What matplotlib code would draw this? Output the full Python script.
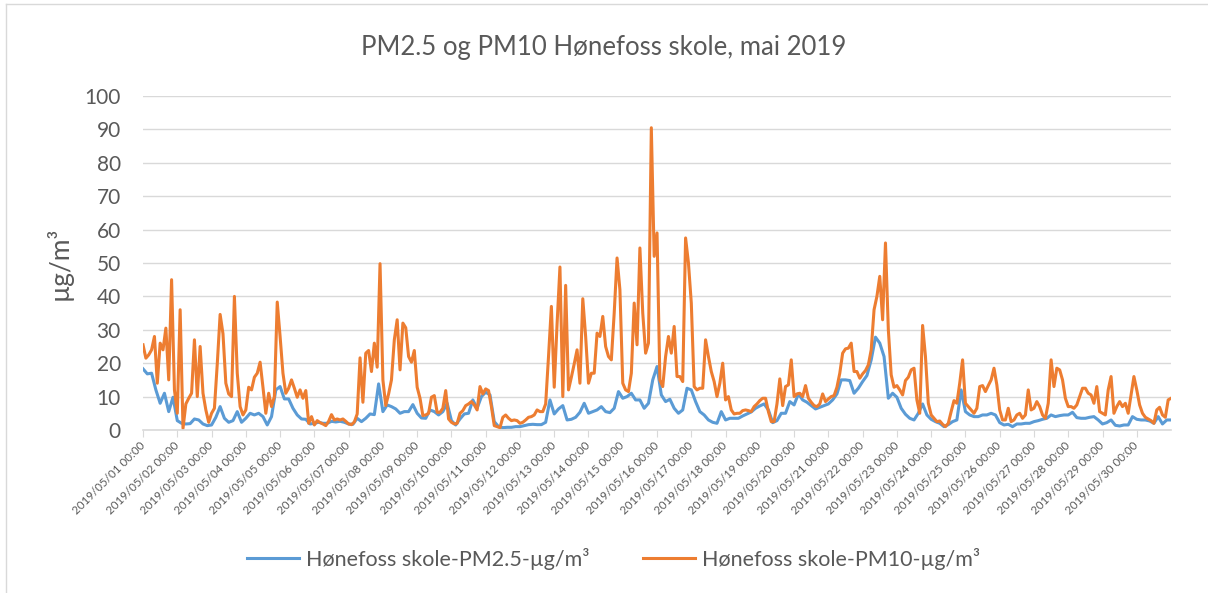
import pandas as pd
import matplotlib.pyplot as plt
from matplotlib.lines import Line2D

plt.rcParams['font.family'] = ['Lato', 'DejaVu Sans']

# PM10, verdier hver 2. time fra 2019-05-01 00:00 (en linje per dag)
pm10 = [
    25.5, 21.5, 22.5, 24, 28, 14, 26, 24, 30.5, 15, 45, 12,
    5, 36, 0.5, 7.8, 9.5, 11, 27, 10, 25, 11, 6, 2.3,
    5, 6.5, 19.8, 34.6, 28.8, 14, 10.8, 10, 40, 17, 7, 4.5,
    6, 12.8, 12, 15.8, 17, 20.3, 12.8, 5, 11, 7, 10, 38.3,
    28, 17, 11, 12.5, 15, 12.5, 9.8, 12, 9.5, 11.8, 2, 4,
    1.5, 2.8, 2.2, 1.8, 1.3, 2.6, 4.6, 3, 3.3, 3, 3.3, 2.6,
    1.8, 1.6, 2.4, 4.8, 21.6, 8.3, 23, 23.8, 17.5, 26, 18.8, 49.8,
    15, 7.3, 10.8, 15, 27, 33, 18, 32, 30.6, 22, 20.3, 23.8,
    12.8, 9.5, 4.3, 4.5, 5, 9.8, 10.3, 5.3, 5.3, 6.5, 11.8, 3.3,
    2.3, 1.8, 2, 5, 5.8, 7.3, 7.8, 8.5, 7.5, 6, 13, 10.8,
    12.3, 11.8, 7, 1.3, 1, 0.7, 3.8, 4.5, 3.5, 2.8, 3, 2.8,
    2, 2.3, 3, 3.8, 4, 4.5, 6, 5.5, 5.5, 7.8, 22, 37,
    12.8, 31.8, 48.8, 10, 43.3, 12, 15.8, 19.8, 24, 14, 39.3, 28,
    14, 17, 17, 29, 28, 34, 25, 22, 21, 35, 51.5, 42,
    14, 12, 11.5, 17, 38, 25.5, 54.5, 35, 23, 26, 90.5, 52,
    59, 15, 13, 22, 28, 23, 31, 16, 16, 14.5, 57.5, 50,
    38, 13, 12, 12.5, 12.5, 27, 22, 17.5, 14.5, 10, 14, 20,
    9, 10, 6, 4.8, 5, 5, 5.8, 6, 5.8, 5.5, 7, 7.8,
    8.8, 9.5, 9.5, 5.5, 2.5, 2.5, 7.8, 15.3, 7.3, 13, 13.5, 21,
    10, 10.8, 11, 10, 13.3, 9.5, 8.3, 7.3, 7, 7.8, 10.8, 8.5,
    9.3, 10, 10.3, 12.8, 17, 23, 24.3, 24.5, 26, 17.5, 17.5, 15.5,
    16.8, 17.8, 19.5, 24, 36, 40, 46, 33, 56, 30, 16.5, 12.8,
    13.3, 12, 10.5, 14.8, 15.8, 18, 18.5, 9, 5, 31.3, 22, 8,
    4.5, 3.5, 2.5, 2.7, 1.7, 1, 2, 5.5, 8.8, 8, 14, 21,
    8, 7, 6, 5, 6.5, 13, 13.3, 11.5, 13.3, 15, 18.5, 13.5,
    6, 3, 3, 6.5, 2.5, 3, 4.5, 5, 3.5, 4.5, 12, 6,
    6.5, 8.5, 7, 4.5, 3.5, 8, 21, 13, 18.5, 18, 15, 9.5,
    7, 7, 6.5, 7.5, 10, 12.5, 12.5, 11, 10.5, 8, 13, 5.5,
    5, 4.5, 12, 16, 5, 7, 8.5, 7, 8, 5, 10.5, 16,
    12, 7.5, 5, 3.8, 3.3, 2.8, 2, 6, 6.8, 4.5, 3.8, 9,
    9.5,
]

# PM2.5, verdier hver 3. time fra 2019-05-01 00:00
pm25 = [
    18.3, 16.8, 17, 12, 8, 11, 5.5, 9.8,
    2.8, 2, 1.8, 1.9, 3.3, 3, 1.8, 1.3,
    1.5, 3.8, 7, 3.5, 2.3, 2.8, 5.5, 2.3,
    3.5, 5, 4.5, 5, 4, 1.5, 4, 12,
    13, 9.3, 9.3, 6.5, 4.5, 3.3, 3.2, 1.8,
    2, 2.3, 2, 2, 2.6, 2.4, 2.6, 2.3,
    1.8, 1.7, 3.5, 2.5, 3.5, 4.8, 4.6, 13.8,
    5.5, 7.5, 7, 6.3, 5, 5.5, 5.5, 7.6,
    5, 3.6, 3.5, 6, 5.5, 4.5, 5.5, 8,
    2.8, 1.5, 3.3, 4.8, 5, 9, 6.5, 10,
    11.3, 10.5, 2.5, 1, 0.7, 0.8, 0.8, 1,
    1, 1.3, 1.6, 1.7, 1.6, 1.6, 2.3, 9,
    4.8, 6.3, 7.3, 3, 3.2, 3.8, 5.3, 8,
    5, 5.5, 6, 7, 5.5, 5.2, 6.5, 11.5,
    9.5, 10, 11, 9, 9, 6.5, 8, 15,
    19, 10.5, 8.5, 9.2, 6.5, 5, 6, 12.5,
    12, 8.5, 5.5, 4.5, 3, 2.3, 2, 5.5,
    3, 3.5, 3.5, 3.5, 4.2, 4.8, 5.4, 6.5,
    7.2, 7.8, 6, 2.2, 2.8, 5, 5, 8.5,
    7.5, 10.8, 9, 8.3, 7.3, 6.3, 6.8, 7.3,
    7.8, 9, 10.8, 15, 15, 14.8, 11, 12.5,
    14.5, 16.3, 21, 27.8, 26, 22, 9.5, 11,
    9.8, 6.5, 4.7, 3.5, 3, 5, 7.8, 4.5,
    3.2, 2.5, 2, 1, 1.6, 2.5, 3, 12,
    5.5, 4.5, 4, 4, 4.5, 4.5, 5, 4.5,
    2.2, 1.5, 1.7, 1, 1.8, 1.8, 2, 2,
    2.5, 2.8, 3.2, 3.5, 4.5, 4, 4.3, 4.5,
    4.5, 5.3, 3.7, 3.5, 3.5, 3.8, 4, 3,
    1.8, 2.2, 3, 1.4, 1.2, 1.5, 1.5, 4,
    3.2, 3, 3, 2.7, 2, 4, 1.8, 3,
    3,
]

t10 = pd.date_range('2019-05-01 00:00', periods=len(pm10), freq='2h')
t25 = pd.date_range('2019-05-01 00:00', periods=len(pm25), freq='3h')
days = pd.date_range('2019-05-01', '2019-05-30', freq='D')
day_labels = [d.strftime('%Y/%m/%d %H:%M') for d in days]

grey = '#595959'

fig = plt.figure(figsize=(12.08, 5.93), dpi=100)
ax = fig.add_axes([0.1184, 0.2749, 0.8510, 0.5632])

ax.plot(t25, pm25, color='#5B9BD5', lw=2.2, label='Hønefoss skole-PM2.5-µg/m³')
ax.plot(t10, pm10, color='#ED7D31', lw=2.2, label='Hønefoss skole-PM10-µg/m³')

ax.set_xlim(pd.Timestamp('2019-05-01'), pd.Timestamp('2019-05-31'))
ax.set_ylim(0, 100)
ax.set_yticks(range(0, 101, 10))
ax.yaxis.grid(True, color='#d9d9d9', lw=1)
ax.set_axisbelow(True)
for s in ['top', 'right', 'left']:
    ax.spines[s].set_visible(False)
ax.spines['bottom'].set_color('#d9d9d9')
ax.spines['bottom'].set_linewidth(1.2)
ax.tick_params(axis='y', length=0, labelsize=15, labelcolor=grey, pad=16)

ax.set_xticks(days)
ax.set_xticklabels(day_labels, rotation=45, ha='right', va='center',
                   rotation_mode='anchor', fontsize=8.3, color=grey)
ax.tick_params(axis='x', length=5, color='#d9d9d9', pad=5)

ax.set_ylabel('µg/m³', fontsize=19, color=grey)
ax.yaxis.set_label_coords(-0.068, 0.5)

fig.text(0.5, 1 - 47 / 593, 'PM2.5 og PM10 Hønefoss skole, mai 2019',
         ha='center', va='center', fontsize=18.5, color=grey)

fig.legend(loc='center', bbox_to_anchor=(0.508, 1 - 559 / 593), ncol=2,
           frameon=False, fontsize=15.5, handlelength=2.4, handletextpad=0.35,
           columnspacing=2.5, labelcolor=grey)

# ramme rundt diagrammet
fig.add_artist(Line2D([0.005, 0.005], [0, 0.993], transform=fig.transFigure,
                      color='#d9d9d9', lw=1))
fig.add_artist(Line2D([0.005, 1], [0.993, 0.993], transform=fig.transFigure,
                      color='#d9d9d9', lw=1))

fig.savefig('out.png', dpi=100)
